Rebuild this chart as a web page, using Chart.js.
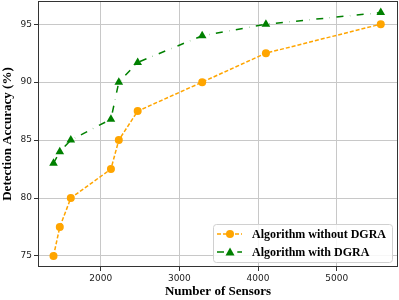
<!DOCTYPE html>
<html>
<head>
<meta charset="utf-8">
<script src="https://cdn.jsdelivr.net/npm/chart.js@4/dist/chart.umd.min.js"></script>
<style>
  body { margin: 0; background: #fff; }
  #wrap { width: 399px; height: 300px; overflow: hidden; }
  #accChart { display: block; margin-top: -4px; }
</style>
</head>
<body>
<div id="wrap"><canvas id="accChart" width="403" height="304"></canvas></div>
<script>
// sensor counts and accuracies
const sensors = [1400, 1480, 1620, 2130, 2230, 2470, 3290, 4100, 5560];
const accWithout = [75, 77.5, 80, 82.5, 85, 87.5, 90, 92.5, 95];
const accWith = [83, 84, 85, 86.8, 90, 91.7, 94, 95, 96];
const xTicks = [2000, 3000, 4000, 5000];
const yTicks = [75, 80, 85, 90, 95];
const seriesNames = ["Algorithm without DGRA", "Algorithm with DGRA"];

const ORANGE = "#ffa500";
const GREEN = "#008000";
const DASH_O = [4, 2];
const DASH_G = [7, 6.5, 0.3, 6.5];

const toPoints = (xs, ys) => xs.map((x, i) => ({ x: x, y: ys[i] }));

// frame + legend box in lower right (matplotlib style)
const framePlugin = {
  id: "frame",
  afterDatasetsDraw(chart) {
    const { ctx, chartArea: a } = chart;
    ctx.save();
    ctx.strokeStyle = "#333";
    ctx.lineWidth = 1;
    ctx.strokeRect(a.left + 0.5, a.top + 0.5, a.right - a.left - 1, a.bottom - a.top - 1);

    // legend, anchored to the lower right of the plot area
    const bw = 179, bh = 38;
    const bx = a.right - 6 - bw, by = a.bottom - 5 - bh;
    ctx.fillStyle = "rgba(255,255,255,0.85)";
    ctx.strokeStyle = "#d0d0d0";
    ctx.beginPath();
    ctx.roundRect(bx + 0.5, by + 0.5, bw, bh, 3);
    ctx.fill();
    ctx.stroke();

    const rows = [
      { y: by + 10, color: ORANGE, dash: DASH_O, marker: "circle" },
      { y: by + 28, color: GREEN, dash: DASH_G, marker: "triangle" }
    ];
    rows.forEach((r, i) => {
      const lx = bx + 4, mx = bx + 17;
      ctx.strokeStyle = r.color;
      ctx.lineWidth = 1.5;
      ctx.setLineDash(r.dash);
      ctx.beginPath();
      ctx.moveTo(lx, r.y);
      ctx.lineTo(lx + 25, r.y);
      ctx.stroke();
      ctx.setLineDash([]);
      ctx.fillStyle = r.color;
      ctx.beginPath();
      if (r.marker === "circle") {
        ctx.arc(mx, r.y, 4, 0, Math.PI * 2);
      } else {
        ctx.moveTo(mx, r.y - 4.5);
        ctx.lineTo(mx + 4.5, r.y + 3.5);
        ctx.lineTo(mx - 4.5, r.y + 3.5);
        ctx.closePath();
      }
      ctx.fill();
      ctx.fillStyle = "#000";
      ctx.font = "bold 12px 'Liberation Serif', 'Times New Roman', serif";
      ctx.textBaseline = "middle";
      ctx.fillText(seriesNames[i], bx + 39, r.y + 1);
    });
    ctx.restore();
  }
};

const tickFont = { family: "DejaVu Sans", size: 9 };
const titleFont = { family: "'Liberation Serif', serif", size: 13, weight: "bold" };

const ctx = document.getElementById("accChart").getContext("2d");
new Chart(ctx, {
  type: "line",
  data: {
    datasets: [
      {
        label: seriesNames[0],
        data: toPoints(sensors, accWithout),
        borderColor: ORANGE,
        backgroundColor: ORANGE,
        borderWidth: 1.5,
        borderDash: DASH_O,
        pointStyle: "circle",
        pointRadius: 4,
        pointBorderWidth: 0,
        tension: 0
      },
      {
        label: seriesNames[1],
        data: toPoints(sensors, accWith),
        borderColor: GREEN,
        backgroundColor: GREEN,
        borderWidth: 1.5,
        borderDash: DASH_G,
        pointStyle: "triangle",
        pointRadius: 5,
        pointBorderWidth: 0,
        tension: 0
      }
    ]
  },
  options: {
    responsive: false,
    animation: false,
    layout: { padding: 0 },
    scales: {
      x: {
        type: "linear",
        min: 1203,
        max: 5779,
        afterBuildTicks: s => { s.ticks = xTicks.map(v => ({ value: v })); },
        afterFit: s => { s.height = 33; s.paddingLeft = 0; s.paddingRight = 0; },
        grid: { color: "#c8c8c8", tickColor: "#333", tickLength: 4 },
        border: { display: false },
        ticks: { color: "#222", padding: 2, font: tickFont, callback: v => String(v) },
        title: { display: true, text: "Number of Sensors", color: "#000", padding: { top: 0, bottom: 1 }, font: titleFont }
      },
      y: {
        min: 74.05,
        max: 97,
        afterBuildTicks: s => { s.ticks = yTicks.map(v => ({ value: v })); },
        afterFit: s => { s.width = 38; s.paddingTop = 0; s.paddingBottom = 0; },
        grid: { color: "#c8c8c8", tickColor: "#333", tickLength: 4 },
        border: { display: false },
        ticks: { color: "#222", padding: 2, font: tickFont, callback: v => String(v) },
        title: { display: true, text: "Detection Accuracy (%)", color: "#000", padding: { top: 0, bottom: 0 }, font: titleFont }
      }
    },
    plugins: {
      legend: { display: false },
      tooltip: { enabled: false }
    }
  },
  plugins: [framePlugin]
});
</script>
</body>
</html>
